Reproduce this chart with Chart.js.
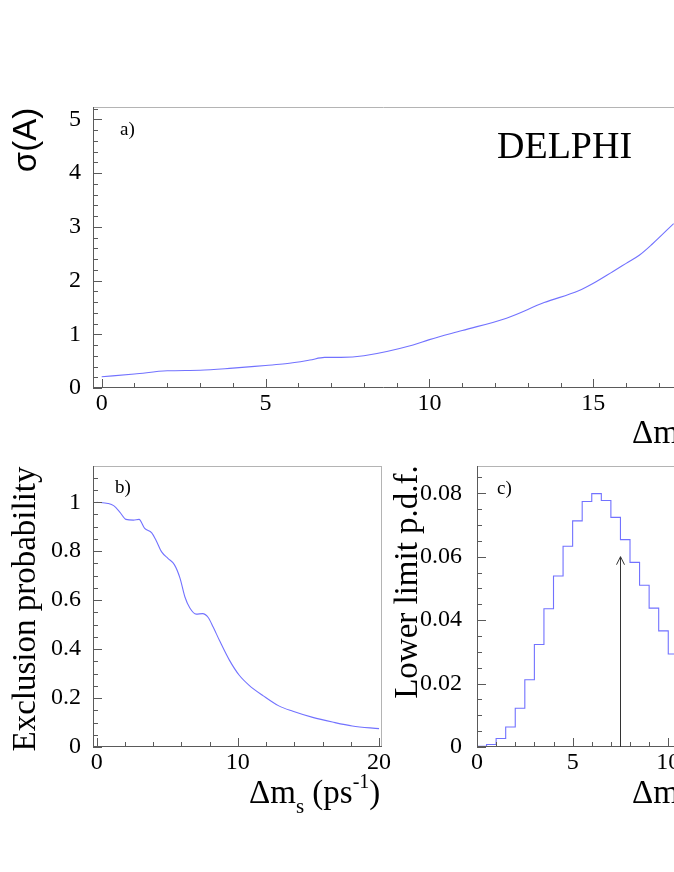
<!DOCTYPE html>
<html><head><meta charset="utf-8">
<script src="https://cdn.jsdelivr.net/npm/chart.js@4/dist/chart.umd.min.js"></script>
<style>
html,body{margin:0;padding:0;background:#fff;overflow:hidden;width:674px;height:872px}
canvas{position:absolute;left:0;top:0}
</style></head><body>
<canvas id="ca" width="674" height="872"></canvas>
<canvas id="cb" width="674" height="872"></canvas>
<canvas id="cc" width="674" height="872"></canvas>
<script>
// ---------------- data ----------------
// a) amplitude error vs Delta m_s
const sigmaDm = [0, 1, 2, 3, 4, 5, 5.6, 6.35, 6.8, 7.3, 8, 9.5, 10, 11, 12.35, 13.5, 14.55, 15, 15.6, 16.0, 16.4, 16.8, 17.45];
const sigmaA  = [0.21, 0.26, 0.32, 0.33, 0.37, 0.42, 0.45, 0.52, 0.57, 0.57, 0.60, 0.80, 0.90, 1.07, 1.30, 1.59, 1.81, 1.95, 2.17, 2.32, 2.47, 2.68, 3.06];
// b) exclusion probability vs Delta m_s
const exclDm   = [0, 0.8, 1.2, 1.65, 2.07, 2.6, 3.0, 3.4, 3.9, 4.2, 4.6, 5.06, 5.5, 5.9, 6.25, 6.6, 7.05, 7.5, 7.9, 8.25, 8.7, 9.4, 10.1, 10.8, 11.8, 12.9, 13.9, 15.3, 16.7, 18.1, 20];
const exclProb = [1.0, 0.995, 0.986, 0.959, 0.93, 0.927, 0.93, 0.893, 0.875, 0.845, 0.797, 0.770, 0.745, 0.69, 0.613, 0.568, 0.543, 0.545, 0.529, 0.49, 0.435, 0.355, 0.293, 0.252, 0.209, 0.168, 0.146, 0.121, 0.102, 0.086, 0.075];
// c) lower limit p.d.f. histogram
const pdfBinEdges = [0, 0.5, 1, 1.5, 2, 2.5, 3, 3.5, 4, 4.5, 5, 5.5, 6, 6.5, 7, 7.5, 8, 8.5, 9, 9.5, 10, 10.5];
const pdfValues   = [0.0002, 0.0008, 0.0027, 0.0063, 0.0122, 0.0212, 0.0323, 0.0436, 0.0539, 0.0633, 0.0713, 0.0774, 0.0799, 0.0777, 0.0724, 0.0654, 0.0582, 0.0510, 0.0438, 0.0366, 0.0293];
const limitDm = 7.5;
const limitArrowTop = 0.06;
// tick labels
const xTicksA = [0, 5, 10, 15];
const yTicksA = [0, 1, 2, 3, 4, 5];
const xTicksB = [0, 10, 20];
const yTicksB = [0, 0.2, 0.4, 0.6, 0.8, 1];
const yTickLabelsB = ['0', '0.2', '0.4', '0.6', '0.8', '1'];
const xTicksC = [0, 5, 10];
const yTicksC = [0, 0.02, 0.04, 0.06, 0.08];
const yTickLabelsC = ['0', '0.02', '0.04', '0.06', '0.08'];

// ---------------- styles ----------------
const SERIF = "'Liberation Serif','Times New Roman',serif";
const SANS = "'Liberation Sans',Arial,sans-serif";
const LINE = '#7272ff';
const AXIS = '#5a5a5a';
const BOX = '#b4b4b4';
const tickFont = { family: SERIF, size: 24 };

function xTitleSegs() {
  return [
    { t: '\u0394m', size: 33, dy: 0 },
    { t: 's', size: 21, dy: 10 },
    { t: ' (ps', size: 33, dy: 0 },
    { t: '-1', size: 20, dy: -15 },
    { t: ')', size: 33, dy: 0 }
  ];
}

function drawSegs(ctx, x, y, segs, family) {
  ctx.textAlign = 'left';
  ctx.textBaseline = 'alphabetic';
  for (const s of segs) {
    ctx.font = s.size + 'px ' + family;
    ctx.fillText(s.t, x, y + s.dy);
    x += ctx.measureText(s.t).width;
  }
}

function drawTickSet(ctx, scale, step, len, area, horizontal) {
  const n0 = Math.ceil(scale.min / step - 1e-6), n1 = Math.floor(scale.max / step + 1e-6);
  for (let n = n0; n <= n1; n++) {
    const p = Math.round(scale.getPixelForValue(n * step)) + 0.5;
    if (horizontal) { ctx.moveTo(p, area.bottom); ctx.lineTo(p, area.bottom - len); }
    else { ctx.moveTo(area.left, p); ctx.lineTo(area.left + len, p); }
  }
}

const framePlugin = {
  id: 'frame',
  afterDatasetsDraw(chart, args, o) {
    const ctx = chart.ctx, a = chart.chartArea;
    const xs = chart.scales.x, ys = chart.scales.y;
    ctx.save();
    ctx.lineWidth = 1;
    // light box (top / right)
    ctx.strokeStyle = BOX;
    ctx.beginPath();
    ctx.moveTo(a.left, a.top + 0.5); ctx.lineTo(a.right, a.top + 0.5);
    if (o.rightBorder) { ctx.moveTo(a.right - 0.5, a.top); ctx.lineTo(a.right - 0.5, a.bottom); }
    ctx.stroke();
    // axes
    ctx.strokeStyle = AXIS;
    ctx.beginPath();
    ctx.moveTo(a.left + 0.5, a.top); ctx.lineTo(a.left + 0.5, a.bottom);
    ctx.moveTo(a.left, a.bottom - 0.5); ctx.lineTo(a.right, a.bottom - 0.5);
    drawTickSet(ctx, xs, o.xMajor, 9, a, true);
    drawTickSet(ctx, xs, o.xMinor, 5, a, true);
    drawTickSet(ctx, ys, o.yMajor, 9, a, false);
    drawTickSet(ctx, ys, o.yMinor, 5, a, false);
    ctx.stroke();
    // arrow
    if (o.arrow) {
      const px = Math.round(xs.getPixelForValue(o.arrow.x)) + 0.5;
      const y0 = ys.getPixelForValue(0), y1 = ys.getPixelForValue(o.arrow.top);
      ctx.strokeStyle = '#333';
      ctx.beginPath();
      ctx.moveTo(px, y0); ctx.lineTo(px, y1);
      ctx.moveTo(px - 4, y1 + 8); ctx.lineTo(px, y1); ctx.lineTo(px + 4, y1 + 8);
      ctx.stroke();
    }
    // texts
    ctx.fillStyle = '#000';
    if (o.panel) {
      ctx.font = '19px ' + SERIF;
      ctx.textAlign = 'left'; ctx.textBaseline = 'alphabetic';
      ctx.fillText(o.panel.t, o.panel.x, o.panel.y);
    }
    if (o.extra) {
      ctx.font = o.extra.font;
      ctx.textAlign = 'left'; ctx.textBaseline = 'alphabetic';
      ctx.fillText(o.extra.t, o.extra.x, o.extra.y);
    }
    if (o.yTitle) {
      ctx.save();
      ctx.translate(o.yTitle.x, o.yTitle.y);
      ctx.rotate(-Math.PI / 2);
      ctx.font = o.yTitle.font;
      ctx.textAlign = 'center'; ctx.textBaseline = 'alphabetic';
      ctx.fillText(o.yTitle.t, 0, 0);
      ctx.restore();
    }
    if (o.xTitle) drawSegs(ctx, o.xTitle.x, o.xTitle.y, xTitleSegs(), SERIF);
    ctx.restore();
  }
};

function makeScales(cfg) {
  return {
    x: {
      type: 'linear', min: cfg.xmin, max: cfg.xmax,
      grid: { display: false, drawTicks: false }, border: { display: false },
      ticks: { font: tickFont, color: '#000', padding: 1, maxRotation: 0, autoSkip: false,
               callback: (v, i) => cfg.xLabels ? cfg.xLabels[i] : String(v) },
      afterBuildTicks: s => { s.ticks = cfg.xTicks.map(v => ({ value: v })); },
      afterFit: s => { s.height = 40; s.paddingLeft = 0; s.paddingRight = 0; }
    },
    y: {
      type: 'linear', min: cfg.ymin, max: cfg.ymax,
      grid: { display: false, drawTicks: false }, border: { display: false },
      ticks: { font: tickFont, color: '#000', padding: cfg.yPad, autoSkip: false,
               callback: (v, i) => cfg.yLabels ? cfg.yLabels[i] : String(v) },
      afterBuildTicks: s => { s.ticks = cfg.yTicks.map(v => ({ value: v })); },
      afterFit: s => { s.width = cfg.yWidth; s.paddingTop = 0; s.paddingBottom = 0; }
    }
  };
}

const common = { responsive: false, animation: false, devicePixelRatio: 1, events: [] };

// ---------- a) ----------
new Chart(document.getElementById('ca'), {
  type: 'line',
  data: { datasets: [{ data: sigmaDm.map((x, i) => ({ x, y: sigmaA[i] })), borderColor: LINE, borderWidth: 1.1,
                       pointRadius: 0, cubicInterpolationMode: 'monotone', fill: false }] },
  options: Object.assign({}, common, {
    layout: { padding: { top: 107, left: 0, right: 0, bottom: 444 } },
    plugins: { legend: { display: false }, tooltip: { enabled: false },
      frame: { xMajor: 5, xMinor: 1, yMajor: 1, yMinor: 0.2, rightBorder: false,
               panel: { t: 'a)', x: 120, y: 135 },
               extra: { t: 'DELPHI', font: '38px ' + SERIF, x: 497, y: 158 },
               yTitle: { t: '\u03c3(A)', font: '33px ' + SANS, x: 36, y: 140 },
               xTitle: { x: 632, y: 443 } } },
    scales: makeScales({ xmin: -0.265, xmax: 17.46, ymin: 0, ymax: 5.23, xTicks: xTicksA, yTicks: yTicksA, yWidth: 93, yPad: 12 })
  }),
  plugins: [framePlugin]
});

// ---------- b) ----------
new Chart(document.getElementById('cb'), {
  type: 'line',
  data: { datasets: [{ data: exclDm.map((x, i) => ({ x, y: exclProb[i] })), borderColor: LINE, borderWidth: 1.1,
                       pointRadius: 0, cubicInterpolationMode: 'monotone', fill: false }] },
  options: Object.assign({}, common, {
    layout: { padding: { top: 466, left: 0, right: 292, bottom: 85 } },
    plugins: { legend: { display: false }, tooltip: { enabled: false },
      frame: { xMajor: 10, xMinor: 2, yMajor: 0.2, yMinor: 0.05, rightBorder: true,
               panel: { t: 'b)', x: 115, y: 493 },
               yTitle: { t: 'Exclusion probability', font: '33px ' + SERIF, x: 35, y: 609 },
               xTitle: { x: 249, y: 803 } } },
    scales: makeScales({ xmin: -0.262, xmax: 20.21, ymin: 0, ymax: 1.148, xTicks: xTicksB, yTicks: yTicksB, yLabels: yTickLabelsB, yWidth: 93, yPad: 12 })
  }),
  plugins: [framePlugin]
});

// ---------- c) ----------
const pdfPoints = pdfValues.map((v, i) => ({ x: pdfBinEdges[i], y: v }));
pdfPoints.push({ x: pdfBinEdges[pdfBinEdges.length - 1], y: pdfValues[pdfValues.length - 1] });
new Chart(document.getElementById('cc'), {
  type: 'line',
  data: { datasets: [{ data: pdfPoints, borderColor: LINE, borderWidth: 1.1, pointRadius: 0, stepped: 'before', fill: false }] },
  options: Object.assign({}, common, {
    layout: { padding: { top: 466, left: 390, right: 0, bottom: 85 } },
    plugins: { legend: { display: false }, tooltip: { enabled: false },
      frame: { xMajor: 5, xMinor: 1, yMajor: 0.02, yMinor: 0.005, rightBorder: false,
               arrow: { x: limitDm, top: limitArrowTop },
               panel: { t: 'c)', x: 497, y: 494 },
               yTitle: { t: 'Lower limit p.d.f.', font: '33px ' + SERIF, x: 417, y: 582 },
               xTitle: { x: 632, y: 803 } } },
    scales: makeScales({ xmin: 0, xmax: 10.3, ymin: 0, ymax: 0.0886, xTicks: xTicksC, yTicks: yTicksC, yLabels: yTickLabelsC, yWidth: 87, yPad: 15 })
  }),
  plugins: [framePlugin]
});
</script>
</body></html>
